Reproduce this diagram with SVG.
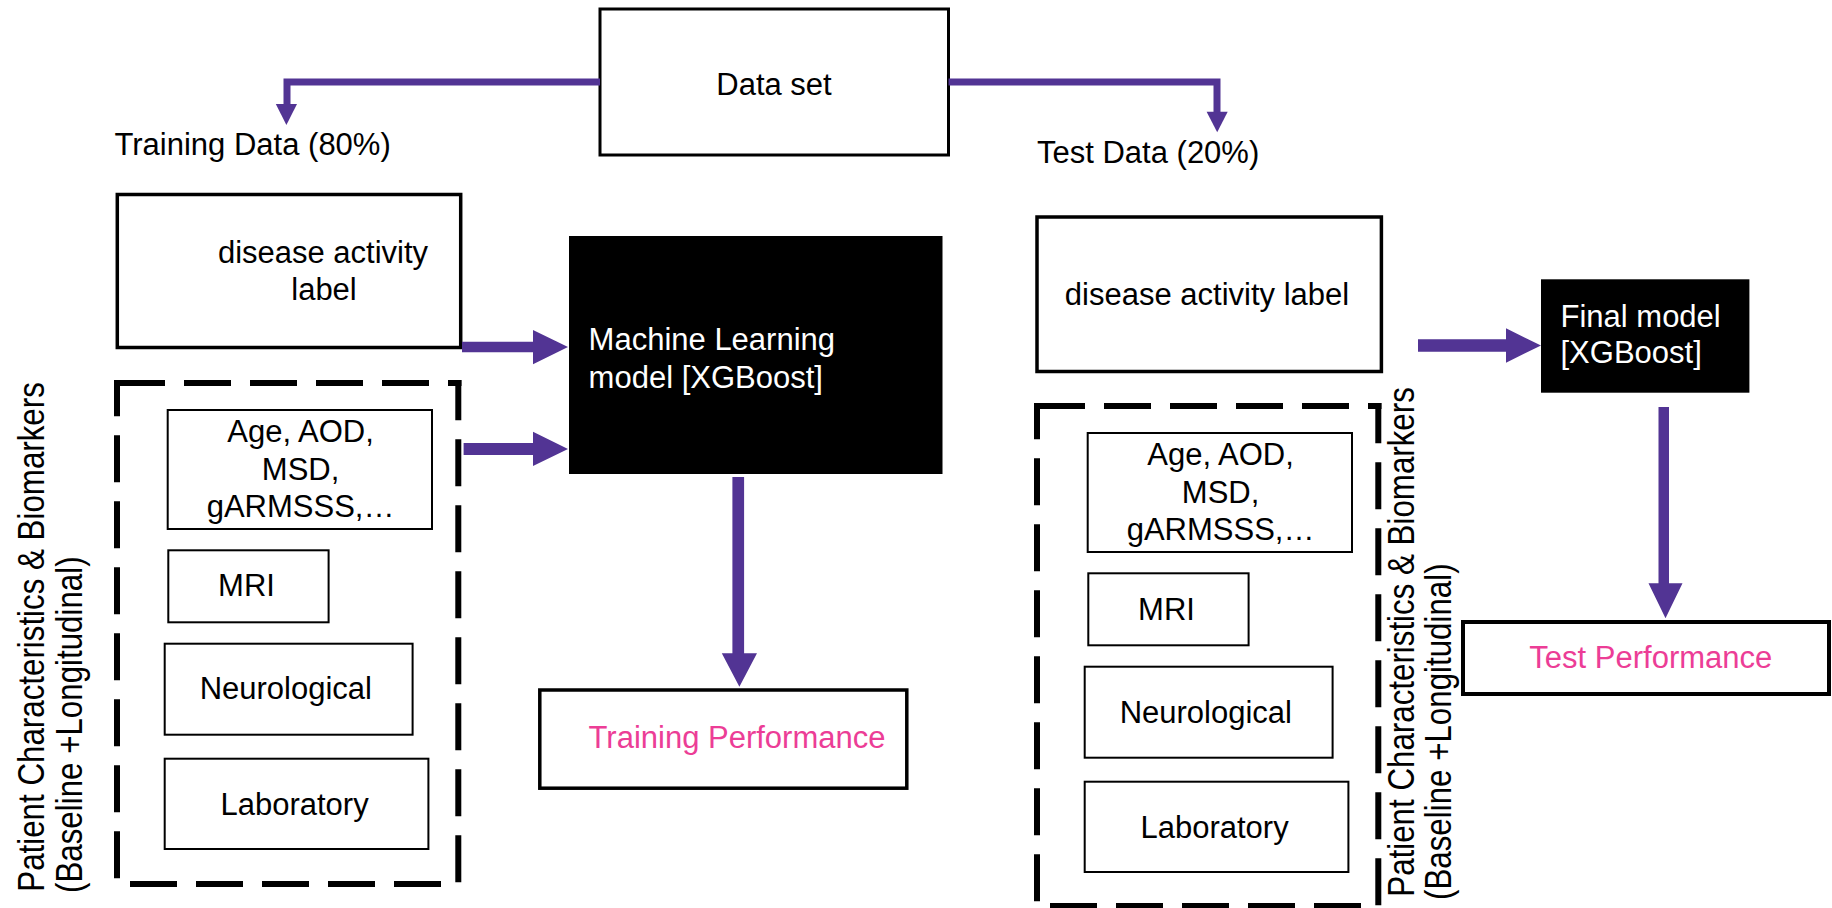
<svg xmlns="http://www.w3.org/2000/svg" width="1832" height="908" viewBox="0 0 1832 908">
<style>
text{font-family:"Liberation Sans",Arial,sans-serif;font-size:31px;fill:#000}
.w{fill:#fff}
.p{fill:#EC3D96}
.c{text-anchor:middle}
.rot{font-size:31.3px}
.thick{fill:#fff;stroke:#000;stroke-width:3.5}
.thin{fill:#fff;stroke:#000;stroke-width:2}
.blk{fill:#000}
.dash{stroke:#000;stroke-width:6;stroke-dasharray:47 19;fill:none}
.conn{fill:none;stroke:#523494;stroke-width:7}
.ah{fill:#523494}
</style>
<rect width="1832" height="908" fill="#fff"/>

<g id="dataset">
<rect class="thick" x="600" y="9" width="348.5" height="146" style="stroke-width:3"/>
<text class="c" x="774" y="95">Data set</text>
</g>

<g id="training-label"><text x="114.5" y="155">Training Data (80%)</text></g>
<g id="test-label"><text x="1037" y="163">Test Data (20%)</text></g>

<g id="train-disease">
<rect class="thick" x="117.3" y="194.5" width="343.4" height="153"/>
<text class="c" x="323" y="263">disease activity</text>
<text class="c" x="324" y="300">label</text>
</g>

<g id="train-features">
<line class="dash" x1="118" y1="383" x2="461.5" y2="383"/>
<line class="dash" x1="117" y1="878.3" x2="117" y2="380"/>
<line class="dash" x1="458.3" y1="882.3" x2="458.3" y2="380"/>
<line class="dash" x1="130" y1="884" x2="442" y2="884"/>
</g>
<g id="train-age">
<rect class="thin" x="167.7" y="410" width="264.3" height="119"/>
<text class="c" x="300.6" y="441.7">Age, AOD,</text>
<text class="c" x="300.6" y="480">MSD,</text>
<text class="c" x="300.6" y="517">gARMSSS,…</text>
</g>
<g id="train-mri">
<rect class="thin" x="168.3" y="550.3" width="160.3" height="72"/>
<text class="c" x="246.5" y="596">MRI</text>
</g>
<g id="train-neuro">
<rect class="thin" x="164.7" y="643.7" width="247.9" height="91"/>
<text class="c" x="285.8" y="699">Neurological</text>
</g>
<g id="train-lab">
<rect class="thin" x="164.7" y="758.7" width="263.7" height="90.3"/>
<text class="c" x="294.6" y="815">Laboratory</text>
</g>
<g id="train-side-label">
<text class="rot" transform="translate(44,891.7) rotate(-90) scale(1,1.2)">Patient Characteristics &amp; Biomarkers</text>
<text class="rot" transform="translate(82,893) rotate(-90) scale(1,1.2)">(Baseline +Longitudinal)</text>
</g>

<g id="ml-model">
<rect class="blk" x="569" y="236" width="373.5" height="238"/>
<text class="w" x="588.6" y="350">Machine Learning</text>
<text class="w" x="588.6" y="388">model [XGBoost]</text>
</g>

<g id="train-perf">
<rect class="thick" x="539.8" y="690" width="367" height="98.2"/>
<text class="c p" x="737" y="748.3">Training Performance</text>
</g>

<g id="test-disease">
<rect class="thick" x="1037" y="217" width="344.4" height="154.5"/>
<text class="c" x="1207" y="305">disease activity label</text>
</g>

<g id="test-features">
<line class="dash" x1="1038" y1="406" x2="1381.5" y2="406"/>
<line class="dash" x1="1037" y1="901.3" x2="1037" y2="403"/>
<line class="dash" x1="1378.3" y1="905.3" x2="1378.3" y2="403"/>
<line class="dash" x1="1050" y1="906" x2="1362" y2="906"/>
</g>
<g id="test-age">
<rect class="thin" x="1087.7" y="433" width="264.3" height="119"/>
<text class="c" x="1220.6" y="464.7">Age, AOD,</text>
<text class="c" x="1220.6" y="503">MSD,</text>
<text class="c" x="1220.6" y="540">gARMSSS,…</text>
</g>
<g id="test-mri">
<rect class="thin" x="1088.3" y="573.3" width="160.3" height="72"/>
<text class="c" x="1166.5" y="619.5">MRI</text>
</g>
<g id="test-neuro">
<rect class="thin" x="1084.7" y="666.7" width="247.9" height="91"/>
<text class="c" x="1205.8" y="722.5">Neurological</text>
</g>
<g id="test-lab">
<rect class="thin" x="1084.7" y="781.7" width="263.7" height="90.3"/>
<text class="c" x="1214.6" y="837.5">Laboratory</text>
</g>
<g id="test-side-label">
<text class="rot" transform="translate(1413.8,896.7) rotate(-90) scale(1,1.2)">Patient Characteristics &amp; Biomarkers</text>
<text class="rot" transform="translate(1450.7,900) rotate(-90) scale(1,1.2)">(Baseline +Longitudinal)</text>
</g>

<g id="final-model">
<rect class="blk" x="1541" y="279.3" width="208.4" height="113.4"/>
<text class="w" x="1560.5" y="326.7">Final model</text>
<text class="w" x="1560.5" y="363.3">[XGBoost]</text>
</g>

<g id="test-perf">
<rect class="thick" x="1463" y="622" width="366" height="72" style="stroke-width:4"/>
<text class="c p" x="1650.8" y="668.3">Test Performance</text>
</g>

<g id="connectors">
<path class="conn" d="M600,82 H287 V105"/>
<polygon class="ah" points="275.8,104 297,104 286.4,125"/>
<path class="conn" d="M948.5,82 H1217 V112"/>
<polygon class="ah" points="1206.6,111.7 1227.7,111.7 1217.2,132.3"/>
<polygon class="ah" points="462,341.7 533,341.7 533,330 568,347 533,364.3 533,352.3 462,352.3"/>
<polygon class="ah" points="463.6,443 533,443 533,431.7 568,449 533,466 533,455 463.6,455"/>
<polygon class="ah" points="1418,339.3 1506,339.3 1506,328.3 1541,345.5 1506,362.7 1506,351.7 1418,351.7"/>
<polygon class="ah" points="732.4,477 744.1,477 744.1,653.3 757,653.3 739.4,686.7 721.8,653.3 732.4,653.3"/>
<polygon class="ah" points="1658.5,407 1669,407 1669,583.3 1682.5,583.3 1665.5,618.3 1648.5,583.3 1658.5,583.3"/>
</g>
</svg>
